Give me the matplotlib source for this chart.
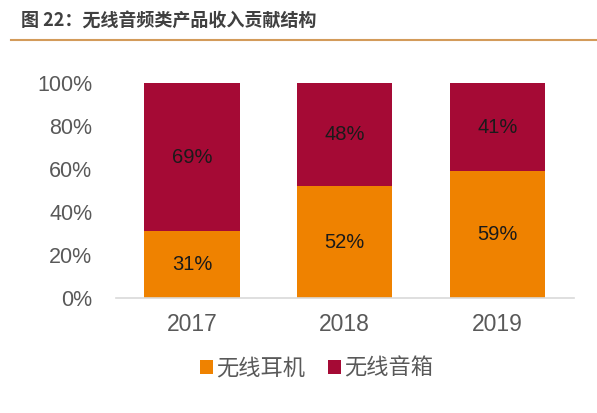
import matplotlib
import matplotlib.pyplot as plt
import numpy as np

matplotlib.use('Agg')
plt.rcParams['font.family'] = ['Noto Sans CJK SC', 'DejaVu Sans']

years = ['2017', '2018', '2019']
earphones = [31, 52, 59]
speakers = [69, 48, 41]
series_names = ['无线耳机', '无线音箱']
title = '图 22：无线音频类产品收入贡献结构'

orange = '#EF8200'
crimson = '#A50A35'
text_gray = '#595959'

fig = plt.figure(figsize=(5.97, 4.13), dpi=100)
ax = fig.add_axes([0.194, 0.278, 0.767, 0.521])

x = np.arange(len(years))
width = 0.625
b1 = ax.bar(x, earphones, width, color=orange, label=series_names[0])
b2 = ax.bar(x, speakers, width, bottom=earphones, color=crimson, label=series_names[1])

for rects, vals in ((b1, earphones), (b2, speakers)):
    ax.bar_label(rects, labels=[f'{v}%' for v in vals], label_type='center',
                 fontsize=14.5, color='#1a1a1a', family=['Liberation Sans', 'DejaVu Sans'])

ax.set_xlim(-0.5, 2.5)
ax.set_ylim(0, 100)
ax.set_yticks(range(0, 101, 20))
ax.set_yticklabels([f'{v}%' for v in range(0, 101, 20)])
ax.set_xticks(x, years)
for lab in ax.get_yticklabels():
    lab.set_family(['Liberation Sans', 'DejaVu Sans'])
    lab.set_fontsize(15.5)
    lab.set_color(text_gray)
for lab in ax.get_xticklabels():
    lab.set_family(['Liberation Sans', 'DejaVu Sans'])
    lab.set_fontsize(16.5)
    lab.set_color(text_gray)
ax.tick_params(axis='both', length=0)
ax.tick_params(axis='x', pad=11)
ax.tick_params(axis='y', pad=17)
for s in ['top', 'right', 'left']:
    ax.spines[s].set_visible(False)
ax.spines['bottom'].set_color('#D9D9D9')
ax.spines['bottom'].set_linewidth(1.2)

fig.legend(loc='center', bbox_to_anchor=(0.53, 0.109), ncols=2, frameon=False,
           handlelength=0.6, handleheight=0.6, handletextpad=0.15, columnspacing=1.0,
           prop={'size': 16}, labelcolor=text_gray)

fig.text(0.035, 0.95, title, fontsize=13, fontweight='bold', color='#404040', va='center')
fig.add_artist(matplotlib.lines.Line2D([0.018, 1.0], [0.903, 0.903], color='#D39B5A',
                                       linewidth=1.5, transform=fig.transFigure))

fig.savefig('out.png', dpi=100)
